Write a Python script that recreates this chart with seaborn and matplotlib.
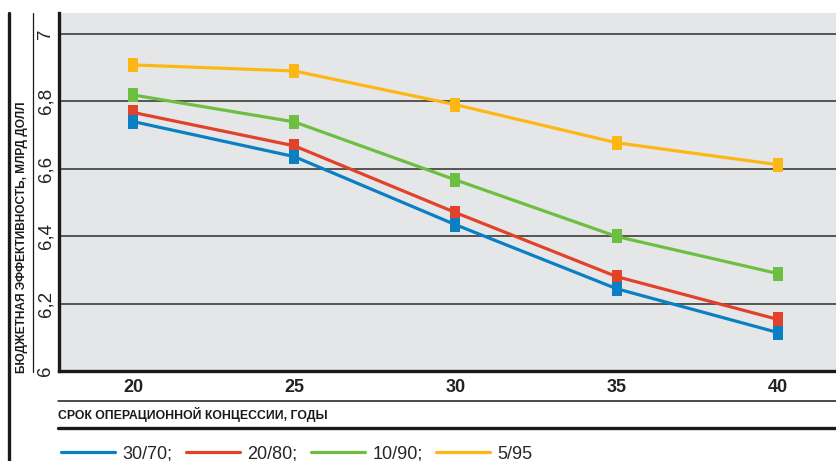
import matplotlib
matplotlib.use("Agg")
import matplotlib.pyplot as plt
from matplotlib.lines import Line2D
import seaborn as sns
import pandas as pd

# Concession term, years
years = [20, 25, 30, 35, 40]

# Budget efficiency (bn USD) for each financing split
series_names = ["30/70", "20/80", "10/90", "5/95"]
eff_30_70 = [6.74, 6.636, 6.434, 6.244, 6.114]
eff_20_80 = [6.767, 6.668, 6.470, 6.280, 6.153]
eff_10_90 = [6.819, 6.739, 6.567, 6.399, 6.289]
eff_5_95 = [6.908, 6.890, 6.790, 6.677, 6.612]

y_ticks = [6.0, 6.2, 6.4, 6.6, 6.8, 7.0]
y_tick_labels = ["6", "6,2", "6,4", "6,6", "6,8", "7"]

colors = ["#0a7fc4", "#e2412a", "#6dbf42", "#fdb714"]

df = pd.DataFrame({
    "year": years * 4,
    "value": eff_30_70 + eff_20_80 + eff_10_90 + eff_5_95,
    "split": sum([[n] * len(years) for n in series_names], []),
})

sns.set_style("white")
plt.rcParams["font.family"] = ["Liberation Sans", "DejaVu Sans"]

W, H = 836, 461
fig = plt.figure(figsize=(W / 100, H / 100), dpi=100)

ax_left, ax_right, ax_top, ax_bottom = 59, 836, 13, 371
ax = fig.add_axes([ax_left / W, (H - ax_bottom) / H,
                   (ax_right - ax_left) / W, (ax_bottom - ax_top) / H])
ax.set_facecolor("#e5e6e8")

rect = [(-0.35, -0.5), (0.35, -0.5), (0.35, 0.5), (-0.35, 0.5), (-0.35, -0.5)]
sns.lineplot(data=df, x="year", y="value", hue="split", hue_order=series_names,
             palette=colors, marker=rect, markersize=9.4, markeredgewidth=0,
             linewidth=2.3, legend=False, ax=ax)
for i, ln in enumerate(ax.lines):
    ln.set_zorder(6 - i)

ax.set_xlim(17.705, 41.80)
ax.set_ylim(6.0, 7.062)
ax.set_xticks(years)
ax.set_xticklabels([str(y) for y in years], fontsize=13, fontweight="bold",
                   color="#222222")
ax.set_yticks(y_ticks)
ax.set_yticklabels(y_tick_labels, fontsize=13.5, rotation=90, va="center",
                   color="#222222")
ax.tick_params(axis="x", length=0, pad=6)
ax.tick_params(axis="y", length=0, pad=3.5)
ax.set_xlabel("")
ax.set_ylabel("")

ax.set_axisbelow(True)
ax.yaxis.grid(True, color="#3c3c3c", linewidth=1.2)
ax.xaxis.grid(False)
for s in ["top", "right"]:
    ax.spines[s].set_visible(False)
for s in ["left", "bottom"]:
    ax.spines[s].set_color("#1a1a1a")
    ax.spines[s].set_linewidth(2.4)


def fx(px):
    return px / W


def fy(py):
    return (H - py) / H


# frame rules around the chart
fig.add_artist(Line2D([fx(9), fx(9)], [fy(13), fy(461)], color="#1a1a1a",
                      linewidth=2.4))
fig.add_artist(Line2D([fx(33), fx(33)], [fy(13), fy(372)], color="#1a1a1a",
                      linewidth=0.9))
fig.add_artist(Line2D([fx(58), fx(836)], [fy(401), fy(401)], color="#1a1a1a",
                      linewidth=1.1))
fig.add_artist(Line2D([fx(58), fx(836)], [fy(428), fy(428)], color="#1a1a1a",
                      linewidth=2.4))

cond = ["Liberation Sans Narrow", "Liberation Sans", "DejaVu Sans"]
fig.text(fx(22), fy(373), "БЮДЖЕТНАЯ ЭФФЕКТИВНОСТЬ, МЛРД ДОЛЛ", rotation=90,
         ha="center", va="bottom", fontsize=8.6, fontweight="bold",
         family=cond, color="#1a1a1a")
fig.text(fx(58), fy(414), "СРОК ОПЕРАЦИОННОЙ КОНЦЕССИИ, ГОДЫ", ha="left",
         va="center", fontsize=8.85, fontweight="bold", family=cond,
         color="#1a1a1a")

handles = [Line2D([0], [0], color=c, linewidth=2.3) for c in colors]
labels = [n + ";" for n in series_names[:-1]] + [series_names[-1]]
fig.legend(handles, labels, loc="center left",
           bbox_to_anchor=(fx(61), fy(454)), ncol=4, frameon=False,
           fontsize=13, handlelength=3.0, handletextpad=0.4,
           columnspacing=0.75, borderaxespad=0, borderpad=0)

fig.savefig("out.png", dpi=100)
